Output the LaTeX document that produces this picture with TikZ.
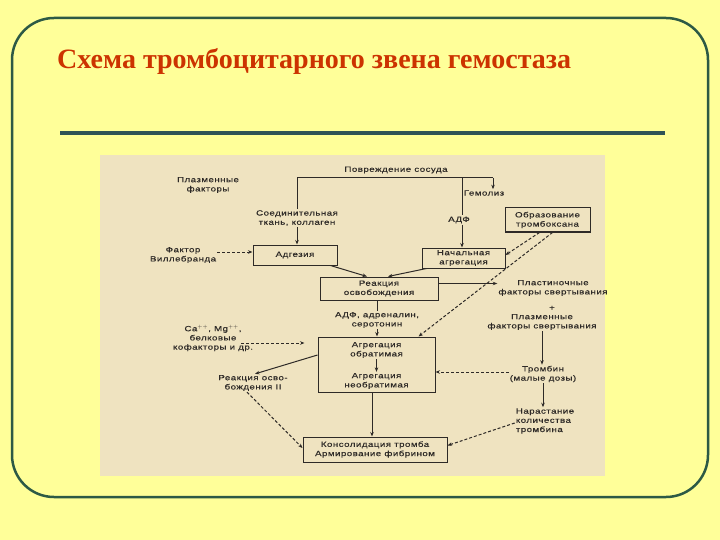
\documentclass[tikz,border=0pt]{standalone}
\usepackage{fontspec}
\setmainfont{Liberation Serif}
\newfontfamily\scanfont[FakeStretch=1.3,LetterSpace=6,FakeBold=0.4]{Liberation Sans}
\usetikzlibrary{arrows.meta}
\definecolor{bgyellow}{HTML}{FFFF99}
\definecolor{framec}{HTML}{2D5A45}
\definecolor{rulec}{HTML}{2F5456}
\definecolor{titlec}{HTML}{CC3300}
\definecolor{scanbg}{HTML}{EFE3C0}
\definecolor{ink}{HTML}{2E2A27}
\begin{document}
\begin{tikzpicture}[x=1pt,y=-1pt,
  lbl/.style={font=\scanfont\fontsize{7.5}{9.2}\selectfont, text=ink, align=center, inner sep=1pt},
  bx/.style={lbl, draw=ink, line width=1pt, inner sep=0pt},
  ln/.style={draw=ink, line width=1pt},
  conn/.style={ln, -{Stealth[length=4.5pt,width=3.5pt]}},
  dsh/.style={conn, dash pattern=on 3pt off 2pt},
  titletext/.style={font=\bfseries\fontsize{28}{30}\selectfont, text=titlec, inner sep=0pt}]
\fill[bgyellow] (0,0) rectangle (720,540);
\useasboundingbox (0,0) rectangle (720,540);
\draw[framec, line width=2.5pt, rounded corners=42pt] (12,18) rectangle (708,497);
\node[titletext, anchor=base west] (title) at (57,69) {Схема тромбоцитарного звена гемостаза};
\coordinate (r1) at (60,133);
\coordinate (r2) at (665,133);
\draw[rulec, line width=3.5pt] (r1) -- (r2);
\fill[scanbg] (100,155) rectangle (605,476);

% labels
\node[lbl] (pov) at (396,170) {Повреждение сосуда};
\node[lbl] (sot) at (297,218) {Соединительная\\ткань, коллаген};
\node[lbl] (gem) at (484,193) {Гемолиз};
\node[lbl, fill=scanbg] (adf) at (459,220) {АДФ};
\node[lbl] (plf) at (208,185) {Плазменные\\факторы};
\node[lbl] (vil) at (183,255) {Фактор\\Виллебранда};
\node[lbl] (plast) at (553,288) {Пластиночные\\факторы свертывания};
\node[lbl] (plus) at (552,308) {+};
\node[lbl] (plazm) at (542,322) {Плазменные\\факторы свертывания};
\node[lbl] (tromb) at (543,374) {Тромбин\\(малые дозы)};
\node[lbl, align=left] (narast) at (545,421) {Нарастание\\количества\\тромбина};
\node[lbl] (adfadr) at (377,320) {АДФ, адреналин,\\серотонин};
\node[lbl] (ca) at (213,338) {Ca$^{++}$, Mg$^{++}$,\\белковые\\кофакторы и др.};
\node[lbl] (reaktwo) at (253,383) {Реакция осво-\\бождения II};

% boxes
\node[bx, minimum width=84pt, minimum height=20pt] (adg) at (295,255) {Адгезия};
\node[bx, minimum width=83pt, minimum height=20pt] (nach) at (463.5,258) {Начальная\\агрегация};
\node[bx, minimum width=85pt, minimum height=24pt] (obr) at (547.5,220) {Образование\\тромбоксана};
\node[bx, minimum width=118pt, minimum height=23pt] (reak) at (379,288.5) {Реакция\\освобождения};
\node[bx, minimum width=117pt, minimum height=55pt] (agr) at (376.5,364.5) {};
\node[lbl] (agrone) at (376.5,350) {Агрегация\\обратимая};
\node[lbl] (agrtwo) at (376.5,381) {Агрегация\\необратимая};
\node[bx, minimum width=144pt, minimum height=25pt] (kons) at (375,449.5) {Консолидация тромба\\Армирование фибрином};

% top connectors
\coordinate (tr) at (493,178);
\coordinate (ta) at (462,178);
\draw[ln] (sot.north) |- (tr);
\draw[conn] (tr) -- (tr |- gem.north);
\draw[ln] (ta) -- (ta |- adf.north);
\draw[conn] (ta |- adf.south) -- (ta |- nach.north);
\draw[conn] (sot.south) -- (sot.south |- adg.north);

\draw[dsh] ([yshift=3pt]vil.east) -- ([yshift=3pt]vil.east -| adg.west);
\draw[conn] ([xshift=-7pt]adg.south east) -- ([xshift=-12pt]reak.north);
\draw[conn] ([xshift=5pt]nach.south west) -- ([xshift=9pt]reak.north);
\draw[dsh] ([xshift=-8pt]obr.south) -- ([yshift=3pt]nach.east);
\draw[dsh] ([xshift=5pt]obr.south) -- ([xshift=-17pt]agr.north east);
\draw[conn] ([yshift=5pt]reak.east) -- ([yshift=5pt]reak.east -| plast.west);
\draw[ln] (adfadr.north |- reak.south) -- (adfadr.north);
\draw[conn] (adfadr.south) -- (adfadr.south |- agr.north);
\draw[conn] (agrone.south) -- (agrtwo.north);
\draw[dsh] ([xshift=-13pt,yshift=-5pt]ca.east) -- ([xshift=-13pt,yshift=-5pt]ca.east -| agr.west);
\draw[conn] ([yshift=9.5pt]agr.west) -- ([xshift=2pt]reaktwo.north);
\draw[dsh] ([xshift=-6pt]reaktwo.south) -- ([yshift=1.5pt]kons.west);
\draw[conn] ([xshift=-3pt]kons.north |- agr.south) -- ([xshift=-3pt]kons.north);
\draw[conn] (plazm.south) -- (plazm.south |- tromb.north);
\draw[dsh] ([yshift=2pt]tromb.west) -- ([yshift=2pt]tromb.west -| agr.east);
\draw[conn] (tromb.south) -- (tromb.south |- narast.north);
\draw[dsh] ([yshift=-2pt]narast.west) -- ([yshift=4pt]kons.east);
\end{tikzpicture}
\end{document}
